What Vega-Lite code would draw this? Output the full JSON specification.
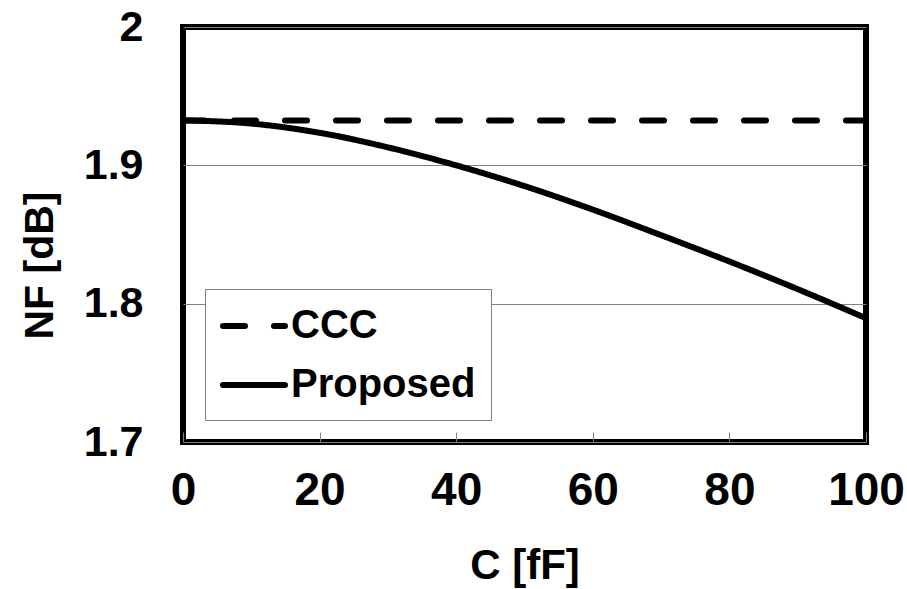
{
  "$schema": "https://vega.github.io/schema/vega-lite/v6.json",
  "autosize": "none",
  "width": 683,
  "height": 415,
  "padding": {"left": 183, "top": 27, "right": 41, "bottom": 147},
  "background": "white",
  "config": {
    "view": {"stroke": "black", "strokeWidth": 6},
    "font": "Liberation Sans",
    "axis": {
      "labelFont": "Liberation Sans",
      "labelFontWeight": "bold",
      "labelColor": "black",
      "titleFont": "Liberation Sans",
      "titleFontWeight": "bold",
      "titleColor": "black",
      "domain": false
    },
    "legend": {
      "labelFont": "Liberation Sans",
      "labelFontWeight": "bold",
      "labelFontSize": 40,
      "labelColor": "black",
      "labelLimit": 400
    }
  },
  "data": {
    "values": [
      {"C": 0, "NF": 1.9325, "series": "CCC"},
      {"C": 100, "NF": 1.9325, "series": "CCC"},
      {"C": 0, "NF": 1.9325, "series": "Proposed"},
      {"C": 10, "NF": 1.9302, "series": "Proposed"},
      {"C": 20, "NF": 1.9235, "series": "Proposed"},
      {"C": 30, "NF": 1.913, "series": "Proposed"},
      {"C": 40, "NF": 1.9, "series": "Proposed"},
      {"C": 50, "NF": 1.885, "series": "Proposed"},
      {"C": 60, "NF": 1.868, "series": "Proposed"},
      {"C": 70, "NF": 1.8495, "series": "Proposed"},
      {"C": 80, "NF": 1.8305, "series": "Proposed"},
      {"C": 90, "NF": 1.8105, "series": "Proposed"},
      {"C": 100, "NF": 1.7895, "series": "Proposed"}
    ]
  },
  "mark": {"type": "line", "color": "black", "strokeWidth": 6, "strokeCap": "round", "interpolate": "monotone", "clip": true},
  "encoding": {
    "x": {
      "field": "C",
      "type": "quantitative",
      "scale": {"domain": [0, 100], "nice": false, "zero": false},
      "axis": {
        "title": "C [fF]",
        "values": [0, 20, 40, 60, 80, 100],
        "grid": false,
        "ticks": true,
        "tickSize": -10,
        "tickColor": "#808080",
        "tickWidth": 1,
        "labelFontSize": 46,
        "labelPadding": 36,
        "titleFontSize": 42,
        "titleBaseline": "alphabetic",
        "titleY": 136,
        "labelFlush": false
      }
    },
    "y": {
      "field": "NF",
      "type": "quantitative",
      "scale": {"domain": [1.7, 2.0], "nice": false, "zero": false},
      "axis": {
        "title": "NF [dB]",
        "values": [1.7, 1.8, 1.9, 2.0],
        "format": "~g",
        "grid": true,
        "gridColor": "#808080",
        "gridWidth": 1,
        "ticks": false,
        "labelFontSize": 43,
        "labelPadding": 40,
        "titleFontSize": 41,
        "titleBaseline": "alphabetic",
        "titleX": -131,
        "titleY": 238
      }
    },
    "strokeDash": {
      "field": "series",
      "type": "nominal",
      "scale": {"domain": ["CCC", "Proposed"], "range": [[22, 29], [1, 0]]},
      "legend": {
        "title": null,
        "orient": "none",
        "legendX": 22,
        "legendY": 262,
        "symbolType": "M-1,0H2.263",
        "symbolSize": 1444,
        "symbolStrokeWidth": 6,
        "symbolStrokeColor": "black",
        "strokeColor": "#808080",
        "fillColor": "white",
        "padding": 15,
        "rowPadding": 17,
        "labelOffset": 27,
        "cornerRadius": 0,
        "encode": {"symbols": {"update": {"strokeCap": {"value": "round"}}}}
      }
    }
  }
}
